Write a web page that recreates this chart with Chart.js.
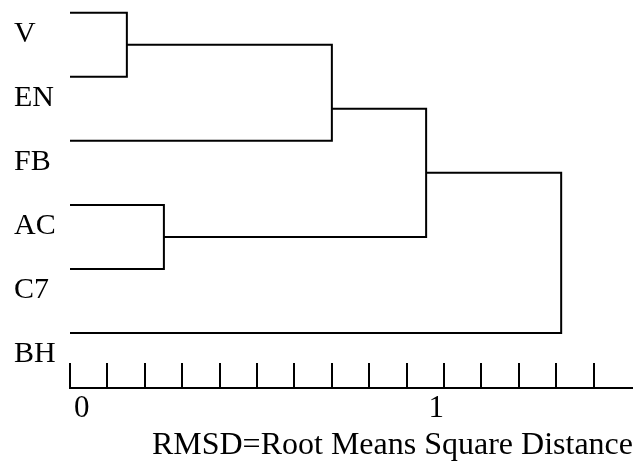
<!DOCTYPE html>
<html>
<head>
    <script src="https://cdn.jsdelivr.net/npm/chart.js@4.4.0/dist/chart.umd.min.js"></script>
    <style>
        body {
            margin: 0;
            background: #fff;
        }

        .chart-container {
            width: 633px;
            height: 462px;
            position: relative;
        }
    </style>
</head>
<body>
    <div class="chart-container">
        <canvas id="dendro"></canvas>
    </div>

    <script>
        // leaves, top to bottom
        const leafLabels = ['V', 'EN', 'FB', 'AC', 'C7', 'BH'];

        // merges: node ids 0-5 are leaves, merge i becomes node 6 + i
        const mergeA = [0, 3, 6, 8, 9];
        const mergeB = [1, 4, 2, 7, 5];
        const mergeHeight = [0.152, 0.251, 0.70, 0.952, 1.313];
        // row the joined branch leaves from (in leaf rows)
        const mergeRow = [0.5, 3.5, 1.5, 2.5, 3.75];

        const xTickValues = [0, 0.1, 0.2, 0.3, 0.4, 0.5, 0.6, 0.7, 0.8, 0.9, 1, 1.1, 1.2, 1.3, 1.4];
        // labels sit a little off their ticks in the original
        const xTickLabels = { 0: '   0', 1: '1  ' };
        const axisTitle = 'RMSD=Root Means Square Distance';

        function nodeHeight(id) {
            return id < leafLabels.length ? 0 : mergeHeight[id - leafLabels.length];
        }

        function nodeRow(id) {
            return id < leafLabels.length ? id : mergeRow[id - leafLabels.length];
        }

        const datasets = mergeHeight.map((h, i) => {
            const a = mergeA[i];
            const b = mergeB[i];
            return {
                data: [
                    { x: nodeHeight(a), y: nodeRow(a) },
                    { x: h, y: nodeRow(a) },
                    { x: h, y: nodeRow(b) },
                    { x: nodeHeight(b), y: nodeRow(b) }
                ],
                borderColor: '#000',
                borderWidth: 2,
                pointRadius: 0,
                tension: 0,
                fill: false
            };
        });

        const serif = "'Liberation Serif', 'Times New Roman', serif";

        new Chart(document.getElementById('dendro'), {
            type: 'line',
            data: { datasets: datasets },
            options: {
                responsive: true,
                maintainAspectRatio: false,
                animation: false,
                layout: { padding: { left: 14, top: 0, right: 0, bottom: 0 } },
                plugins: {
                    legend: { display: false },
                    tooltip: { enabled: false },
                    title: {
                        display: true,
                        position: 'bottom',
                        align: 'end',
                        text: axisTitle,
                        color: '#000',
                        font: { family: serif, size: 32, weight: 'normal', lineHeight: 1 },
                        padding: { top: 0, bottom: 0 }
                    }
                },
                scales: {
                    x: {
                        type: 'linear',
                        position: 'bottom',
                        min: 0,
                        max: 1.505,
                        afterBuildTicks: s => {
                            s.ticks = xTickValues.map(v => ({ value: v }));
                        },
                        afterFit: s => {
                            s.height = 42;
                            s.paddingLeft = 0;
                            s.paddingRight = 0;
                        },
                        grid: {
                            drawOnChartArea: false,
                            drawTicks: true,
                            tickLength: -25,
                            color: '#000',
                            lineWidth: 2
                        },
                        border: { display: true, color: '#000', width: 2 },
                        ticks: {
                            autoSkip: false,
                            maxRotation: 0,
                            padding: 27,
                            color: '#000',
                            font: { family: serif, size: 31 },
                            callback: v => xTickLabels[v] || ''
                        }
                    },
                    y: {
                        type: 'linear',
                        reverse: true,
                        min: -0.2,
                        max: 5.86,
                        afterBuildTicks: s => {
                            s.ticks = leafLabels.map((_, i) => ({ value: i }));
                        },
                        afterFit: s => {
                            s.width = 56;
                            s.paddingTop = 0;
                            s.paddingBottom = 0;
                        },
                        grid: { display: false },
                        border: { display: false },
                        ticks: {
                            crossAlign: 'far',
                            labelOffset: 21,
                            color: '#000',
                            font: { family: serif, size: 30 },
                            callback: v => leafLabels[v]
                        }
                    }
                }
            }
        });
    </script>
</body>
</html>
